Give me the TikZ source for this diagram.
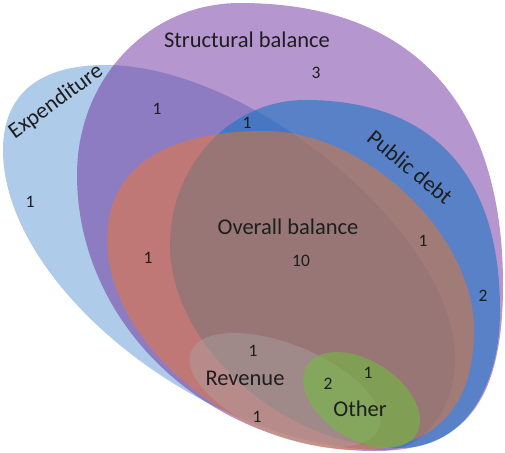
\documentclass[tikz,border=0pt]{standalone}
\usepackage{fontspec}
\setmainfont{Carlito}
\newcommand\BlobSet[8]{\def\BTx{#1}\def\BTy{#2}\def\BRx{#3}\def\BRy{#4}\def\BBx{#5}\def\BBy{#6}\def\BLx{#7}\def\BLy{#8}}
\newcommand\BlobK[4]{\def\KA{#1}\def\KB{#2}\def\KC{#3}\def\KD{#4}}
\definecolor{colE}{RGB}{174,203,233}
\definecolor{colS}{RGB}{113,53,161}
\definecolor{colP}{RGB}{21,116,196}
\definecolor{colO}{RGB}{251,117,23}
\definecolor{colV}{RGB}{170,166,166}
\definecolor{colG}{RGB}{115,185,65}
\definecolor{txt}{RGB}{30,30,30}
\tikzset{
  blobpath/.style={insert path={(\BTx,\BTy) .. controls ({\BTx+\KA*(\BRx-\BTx)},\BTy) and (\BRx,{\BRy-\KA*(\BRy-\BTy)}) .. (\BRx,\BRy) .. controls (\BRx,{\BRy+\KB*(\BBy-\BRy)}) and ({\BBx+\KB*(\BRx-\BBx)},\BBy) .. (\BBx,\BBy) .. controls ({\BBx-\KC*(\BBx-\BLx)},\BBy) and (\BLx,{\BLy+\KC*(\BBy-\BLy)}) .. (\BLx,\BLy) .. controls (\BLx,{\BLy-\KD*(\BLy-\BTy)}) and ({\BTx-\KD*(\BTx-\BLx)},\BTy) .. cycle}},
  fillE/.style={fill=colE},
  fillS/.style={fill=colS, fill opacity=0.52},
  fillP/.style={fill=colP, fill opacity=0.58},
  fillO/.style={fill=colO, fill opacity=0.45},
  fillV/.style={fill=colV, fill opacity=0.42},
  fillG/.style={fill=colG, fill opacity=0.6},
  lbl/.style={font=\fontsize{22.5}{27}\selectfont, text=txt, inner sep=0pt},
  num/.style={font=\fontsize{17.5}{21}\selectfont, text=txt, inner sep=0pt}
}
\begin{document}
\begin{tikzpicture}[x=1pt,y=-1pt]
\useasboundingbox (0,0) rectangle (505,452);
% Expenditure
\BlobSet{105}{65}{455}{358}{385}{450}{3}{150}\BlobK{0.42}{0.55}{0.46}{0.65}
\fill[fillE, blobpath];
% Structural balance
\BlobSet{240}{3}{503}{285}{375}{451}{77}{175}\BlobK{0.65}{0.7}{0.55}{0.56}
\fill[fillS, blobpath];
% Public debt
\BlobSet{305}{100}{500}{310}{400}{448}{170}{245}\BlobK{0.65}{0.6}{0.5}{0.55}
\fill[fillP, blobpath];
% Overall balance
\BlobSet{265}{131}{474}{330}{358}{450}{107}{240}\BlobK{0.48}{0.65}{0.49}{0.65}
\fill[fillO, blobpath];
% Revenue
\fill[fillV, rotate around={-22.3:(285,390)}] (285,390) ellipse [x radius=101.5pt, y radius=45.4pt];
% Other
\fill[fillG, rotate around={-32.4:(361.5,400)}] (361.5,400) ellipse [x radius=64.6pt, y radius=39.3pt];
% labels
\node[lbl] (tS) at (247,40) {Structural balance};
\node[lbl, rotate=36] (tE) at (56,102) {Expenditure};
\node[lbl, rotate=-39.5] (tP) at (410,167) {Public debt};
\node[lbl] (tO) at (288,227) {Overall balance};
\node[lbl] (tV) at (245,378) {Revenue};
\node[lbl] (tG) at (360,409) {Other};
\node[num] (n1) at (316,73) {3};
\node[num] (n2) at (157,109) {1};
\node[num] (n3) at (247,123) {1};
\node[num] (n4) at (30,202) {1};
\node[num] (n5) at (301,261) {10};
\node[num] (n6) at (148,258) {1};
\node[num] (n7) at (423,241) {1};
\node[num] (n8) at (483,296) {2};
\node[num] (n9) at (253,351) {1};
\node[num] (n10) at (328,384) {2};
\node[num] (n11) at (368,373) {1};
\node[num] (n12) at (257,417) {1};
\end{tikzpicture}
\end{document}
